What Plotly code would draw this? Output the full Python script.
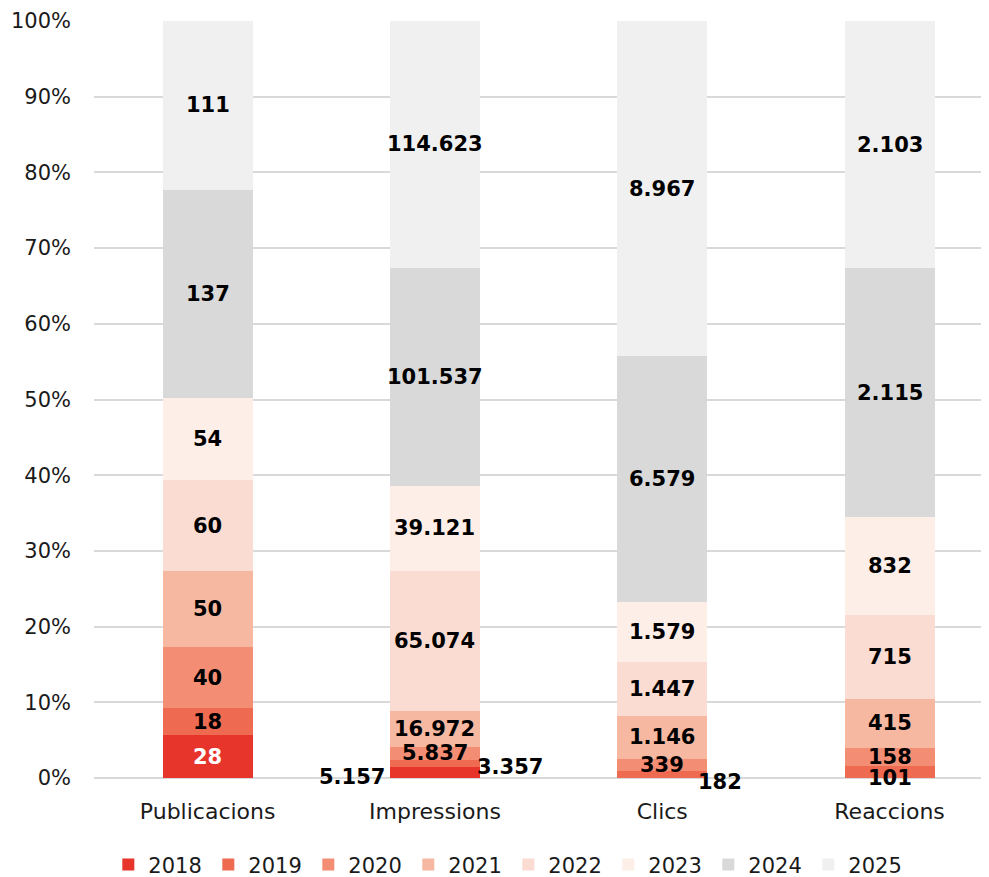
import plotly.graph_objects as go

categories = ["Publicacions", "Impressions", "Clics", "Reaccions"]
years = ["2018", "2019", "2020", "2021", "2022", "2023", "2024", "2025"]

v2018 = [28, 5157, None, None]
v2019 = [18, 3357, 182, 101]
v2020 = [40, 5837, 339, 158]
v2021 = [50, 16972, 1146, 415]
v2022 = [60, 65074, 1447, 715]
v2023 = [54, 39121, 1579, 832]
v2024 = [137, 101537, 6579, 2115]
v2025 = [111, 114623, 8967, 2103]

series = [v2018, v2019, v2020, v2021, v2022, v2023, v2024, v2025]
colors = ["#E7352B", "#EE6A50", "#F38E75", "#F6B8A0", "#FADCD2", "#FDEEE8", "#D9D9D9", "#F0F0F0"]

# manual label offsets (px) for labels moved out of thin segments
offsets = {
    (1, 0): (-83, -5),
    (1, 1): (75, -4),
    (2, 1): (58, -7),
    (3, 1): (0, -6),
}
white_labels = {(0, 0)}

FONT = "DejaVu Sans"

fig = go.Figure()
for yr, vals, col in zip(years, series, colors):
    fig.add_trace(go.Bar(
        x=categories, y=vals, name=yr, marker=dict(color=col, line=dict(width=0)),
        hoverinfo="skip",
    ))

# data labels placed at the middle of each stacked segment (percent scale)
annotations = []
for ci, cat in enumerate(categories):
    total = sum(s[ci] for s in series if s[ci] is not None)
    cum = 0.0
    for si, s in enumerate(series):
        v = s[ci]
        if v is None:
            continue
        pct = v / total * 100
        mid = cum + pct / 2
        cum += pct
        dx, dy = offsets.get((ci, si), (0, 0))
        annotations.append(dict(
            x=cat, y=mid, xref="x", yref="y",
            text=f"<b>{v:,}</b>".replace(",", "."), showarrow=False,
            xshift=dx, yshift=dy,
            font=dict(family=FONT, size=21,
                      color="white" if (ci, si) in white_labels else "black"),
        ))

fig.update_layout(
    barmode="stack", barnorm="percent",
    bargap=0.604,
    width=989, height=877,
    margin=dict(l=86, r=12, t=13, b=107, autoexpand=False),
    plot_bgcolor="white", paper_bgcolor="white",
    font=dict(family=FONT, size=21, color="#1a1a1a"),
    annotations=annotations,
    showlegend=True,
    legend=dict(
        orientation="h", x=0.465, xanchor="center",
        yref="container", y=0.023, yanchor="middle",
        font=dict(family=FONT, size=21, color="#1a1a1a"),
        traceorder="normal", itemclick=False, entrywidth=55,
    ),
)
fig.update_xaxes(
    range=[-0.5, 3.42], showgrid=False, showline=False, zeroline=False,
    ticks="", ticklabelstandoff=18, tickfont=dict(size=22), automargin=False,
)
fig.update_yaxes(
    range=[0, 100], dtick=10, ticksuffix="%", showgrid=True,
    gridcolor="#D9D9D9", gridwidth=2, zeroline=True, zerolinecolor="#D9D9D9",
    zerolinewidth=2, showline=False, ticks="", ticklabelstandoff=22,
    tickfont=dict(size=21), automargin=False,
)

fig.write_html("out.html")
